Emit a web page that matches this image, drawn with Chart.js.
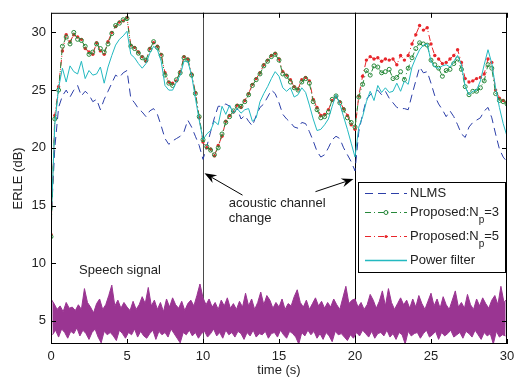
<!DOCTYPE html>
<html>
<head>
<meta charset="utf-8">
<script src="https://cdn.jsdelivr.net/npm/chart.js@4.4.1/dist/chart.umd.min.js"></script>
<style>
  body { margin: 0; background: #fff; }
  #wrap { width: 522px; height: 383px; }
</style>
</head>
<body>
<div id="wrap"><canvas id="erleChart" width="522" height="383"></canvas></div>
<script>
// ---- data ----
const sampleStep = 0.25;   // s between ERLE samples
const speechStep = 0.1;    // s between speech samples

const xTicks = [0, 5, 10, 15, 20, 25, 30];
const yTicks = [5, 10, 15, 20, 25, 30];
const channelChanges = [10, 20];

const nlmsErle = [
  13.5, 20.0, 23.5, 24.5,  25.0, 24.4, 25.0, 25.4,  24.5, 24.9, 24.6, 24.0,
  24.2, 23.3, 24.2, 24.9,  25.6, 26.3, 26.1, 26.5,  26.7, 24.3, 23.9, 23.4,
  23.1, 22.7, 23.2, 23.4,  22.9, 21.9, 20.8, 20.3,  20.6, 20.8, 21.0, 21.4,
  22.4, 21.8, 21.0, 20.2,  19.0, 20.1, 21.4, 22.6,  23.6, 23.6, 23.8, 23.6,
  23.0, 23.4, 22.5, 22.8,  22.3, 21.9, 22.8, 23.5,  23.8, 24.4, 25.0, 24.7,
  23.9, 22.9, 22.5, 22.2,  21.8, 21.7, 22.2, 22.1,  21.4, 20.6, 19.7, 19.2,
  19.4, 20.0, 20.7, 21.0,  20.8, 20.0, 19.4, 18.8,  18.0, 21.4, 22.9, 24.2,
  24.6, 24.8, 25.0, 24.6,  24.9, 24.3, 23.9, 23.5,  23.4, 23.4, 23.3, 24.6,
  25.8, 27.0, 26.5, 26.6,  25.6, 24.5, 23.8, 23.3,  22.7, 23.2, 22.7, 22.0,
  21.2, 20.9, 21.8, 22.2,  22.4, 22.6, 23.2, 23.5,  22.6, 21.2, 19.9, 19.2,
  18.8
];

const np3Erle = [
  12.3, 22.5, 25.0, 28.8,  29.6, 29.0, 30.0, 29.4,  29.3, 28.8, 28.1, 28.3,
  29.0, 28.6, 28.3, 29.0,  29.9, 30.6, 30.8, 31.1,  31.2, 28.8, 28.6, 28.2,
  27.8, 27.6, 28.5, 29.2,  28.7, 28.0, 26.3, 25.6,  25.4, 25.9, 26.5, 27.8,
  27.6, 26.3, 24.7, 22.7,  20.7, 20.1, 19.8, 19.4,  20.0, 21.2, 22.2, 22.7,
  23.2, 23.6, 23.6, 24.0,  24.6, 25.4, 25.9, 26.4,  27.1, 27.5, 27.9, 28.1,
  27.6, 26.4, 26.2, 25.7,  25.2, 25.0, 25.7, 26.0,  25.6, 24.0, 23.3, 22.6,
  22.7, 23.1, 24.2, 24.5,  23.9, 23.3, 22.6, 22.2,  21.8, 24.4, 25.5, 26.7,
  26.3, 27.1, 27.0, 26.5,  26.6, 26.8, 26.0, 26.1,  26.6, 25.9, 26.9, 27.8,
  28.6, 29.1, 29.0, 28.9,  27.6, 27.2, 26.9, 26.2,  26.7, 26.8, 27.3, 27.7,
  26.8, 25.3, 24.6, 24.9,  24.9, 25.2, 25.8, 27.2,  26.9, 24.7, 24.1, 24.0,
  23.8
];

const np5Erle = [
  12.5, 22.8, 25.3, 28.4,  29.8, 29.2, 29.8, 29.6,  29.4, 28.6, 28.3, 28.1,
  29.1, 28.4, 28.1, 29.2,  30.0, 30.5, 30.9, 31.0,  31.3, 28.9, 28.7, 28.3,
  27.9, 27.5, 28.6, 29.1,  28.8, 28.1, 26.5, 25.7,  25.6, 25.8, 26.6, 27.9,
  27.7, 26.4, 24.8, 22.6,  20.5, 20.0, 19.9, 19.3,  20.2, 21.0, 22.3, 22.8,
  23.1, 23.7, 23.5, 24.1,  24.7, 25.5, 26.0, 26.5,  27.2, 27.6, 28.0, 28.2,
  27.7, 26.6, 26.3, 25.9,  25.3, 25.1, 25.9, 26.1,  25.8, 24.2, 23.5, 22.8,
  22.9, 23.3, 24.1, 24.4,  24.0, 23.4, 22.8, 22.0,  21.6, 24.5, 26.2, 27.6,
  27.9, 27.7, 27.8, 27.5,  27.7, 27.6, 27.7, 27.2,  28.0, 27.6, 28.0, 29.0,
  29.8, 30.6, 30.2, 30.4,  29.0, 28.0, 27.7, 27.3,  27.4, 27.7, 28.0, 28.5,
  27.4, 26.0, 25.7, 25.8,  26.0, 26.1, 26.4, 27.7,  27.4, 25.0, 24.3, 24.1,
  23.9
];

const powerErle = [
  13.3, 22.0, 25.2, 26.9,  25.7, 27.1, 26.6, 26.4,  27.5, 26.0, 26.7, 26.3,
  26.4, 27.0, 25.6, 27.0,  28.0, 28.9, 29.4, 29.7,  30.1, 28.1, 27.8, 27.3,
  26.9, 27.3, 28.2, 28.8,  28.5, 27.5, 25.4, 25.0,  25.0, 25.7, 26.3, 27.5,
  27.5, 26.3, 24.3, 22.4,  20.7, 21.2, 21.5, 22.3,  22.0, 23.6, 22.9, 23.7,
  23.0, 23.4, 23.0, 23.3,  23.4, 22.3, 22.6, 24.0,  24.7, 25.3, 26.0, 26.6,
  26.2, 25.2, 24.9, 25.2,  24.4, 24.6, 25.2, 24.8,  23.7, 22.5, 21.5, 21.6,
  22.0, 22.5, 23.6, 24.6,  23.8, 22.7, 21.6, 20.4,  19.2, 21.8, 22.7, 24.0,
  24.9, 24.1, 25.4, 24.8,  25.2, 24.8, 24.9, 25.6,  24.9, 25.8, 25.5, 27.0,
  27.8, 28.5, 28.9, 29.0,  27.5, 27.0, 26.9, 27.1,  27.2, 27.0, 27.5, 28.0,
  27.2, 25.3, 24.6, 24.9,  25.0, 25.8, 27.2, 28.5,  27.3, 25.2, 23.5, 22.1,
  21.0
];

// speech waveform, alternating crest / trough samples (drawn around 5)
const speechSignal = [
  6.9,3.8,6.5,4.2,6.0,3.6,6.3,4.3,5.8,4.0,  6.6,3.5,6.1,4.1,6.2,3.9,5.9,4.4,6.4,3.7,
  6.0,4.2,7.8,3.9,6.6,3.4,6.2,4.0,5.7,4.3,  6.5,3.6,6.9,3.1,6.0,4.1,6.4,3.8,7.2,4.0,
  8.1,3.7,6.3,3.3,6.8,4.2,6.1,3.9,6.6,3.5,  6.2,4.0,5.9,3.8,6.7,4.3,6.0,3.6,6.4,4.1,
  7.1,3.7,6.5,3.5,7.9,3.9,6.3,4.2,6.8,3.4,  6.0,4.1,6.6,3.8,5.8,4.0,6.9,3.6,6.2,4.3,
  7.0,3.9,6.4,3.5,6.1,3.1,6.7,4.0,5.9,3.8,  6.5,4.2,6.8,3.7,6.3,4.0,7.2,3.5,8.2,3.9,
  7.0,4.1,6.4,3.6,6.9,3.9,6.2,4.3,6.6,3.7,  6.0,4.0,6.8,3.5,6.3,4.2,7.0,3.8,6.1,4.0,
  6.5,3.6,6.0,4.1,6.7,3.9,6.2,3.4,7.4,4.0,  6.3,3.7,6.9,4.2,6.0,3.6,6.6,3.9,7.5,3.8,
  6.4,4.1,7.2,3.5,6.8,3.9,6.1,4.0,6.6,3.6,  6.2,4.2,6.9,3.8,6.0,3.5,6.5,4.1,6.3,3.9,
  7.1,3.6,7.7,3.0,6.6,4.0,6.2,3.7,6.8,4.2,  6.0,3.8,6.5,4.1,7.0,3.5,6.3,3.9,6.7,3.4,
  6.1,4.0,6.6,3.7,6.2,3.2,6.9,4.1,6.4,3.8,  6.0,3.9,7.0,3.6,8.0,3.3,6.5,3.8,6.8,3.5,
  6.9,4.0,6.2,3.7,6.6,4.2,6.0,3.9,6.4,3.6,  7.3,4.1,6.8,3.5,6.1,3.9,6.7,4.0,7.6,3.7,
  6.3,4.2,7.8,3.6,6.6,3.9,6.0,3.4,6.5,4.0,  7.0,3.8,6.4,3.0,6.8,4.1,6.1,3.7,6.9,3.9,
  6.2,4.0,7.2,3.5,6.5,3.9,6.0,4.2,6.7,3.6,  7.4,3.8,6.3,4.1,6.9,3.4,6.1,4.0,7.1,3.7,
  6.4,3.9,6.0,4.2,6.8,3.6,7.6,3.8,6.2,4.0,  6.6,3.5,6.1,4.1,7.3,3.9,6.4,3.6,6.0,4.2,
  6.9,3.8,6.3,3.4,7.0,4.0,6.5,3.7,6.1,3.9,  6.8,3.0,7.2,4.1,6.4,3.6,8.0,3.8,6.6,3.7,
  6.9
];

// ---- helpers ----
const FONT = 'Arial, "Liberation Sans", sans-serif';
const TXT = '#222';
const toPoints = (vals, dt) => vals.map((v, i) => ({ x: i * dt, y: v }));

// split the waveform into its crest and trough envelopes so the band can be filled
const speechPts = toPoints(speechSignal, speechStep);
const speechCrest = speechPts.filter((p, i) => i % 2 === 0);
const speechTrough = speechPts.filter((p, i) => i % 2 === 1);

const COL = {
  nlms: '#2c3fa8',
  np3: '#27883a',
  np5: '#e8262b',
  power: '#23b9c0',
  speech: '#9a3592'
};

function drawArrow(ctx, x0, y0, x1, y1) {
  const ang = Math.atan2(y1 - y0, x1 - x0);
  const c = Math.cos(ang), s = Math.sin(ang);
  const len = 12, half = 4.5, notch = 8;
  ctx.beginPath();
  ctx.moveTo(x0, y0);
  ctx.lineTo(x1 - notch * c, y1 - notch * s);
  ctx.stroke();
  ctx.beginPath();
  ctx.moveTo(x1, y1);
  ctx.lineTo(x1 - len * c + half * s, y1 - len * s - half * c);
  ctx.lineTo(x1 - notch * c, y1 - notch * s);
  ctx.lineTo(x1 - len * c - half * s, y1 - len * s + half * c);
  ctx.closePath();
  ctx.fill();
}

// MATLAB-like frame: box, inward ticks, markers, notes and legend
const matlabFrame = {
  id: 'matlabFrame',
  beforeDatasetsDraw(chart) {
    const { ctx, chartArea: a, scales: { x } } = chart;
    ctx.save();
    ctx.lineWidth = 1;
    channelChanges.forEach((t, i) => {
      const px = Math.round(x.getPixelForValue(t)) + 0.5;
      ctx.strokeStyle = i === 0 ? '#4a4a4a' : '#000';
      ctx.beginPath();
      ctx.moveTo(px, a.top);
      ctx.lineTo(px, a.bottom);
      ctx.stroke();
    });
    ctx.restore();
  },
  afterDraw(chart) {
    const { ctx, chartArea: a, scales: { x, y } } = chart;
    ctx.save();

    // box
    ctx.strokeStyle = '#000';
    ctx.lineWidth = 1;
    ctx.strokeRect(a.left + 0.5, a.top + 0.5, a.right - a.left - 1, a.bottom - a.top - 1);

    // inward ticks on all four sides
    const tl = 5;
    ctx.beginPath();
    xTicks.forEach(v => {
      const px = Math.round(x.getPixelForValue(v)) + 0.5;
      ctx.moveTo(px, a.bottom); ctx.lineTo(px, a.bottom - tl);
      ctx.moveTo(px, a.top); ctx.lineTo(px, a.top + tl);
    });
    yTicks.forEach(v => {
      const py = Math.round(y.getPixelForValue(v)) + 0.5;
      ctx.moveTo(a.left, py); ctx.lineTo(a.left + tl, py);
      ctx.moveTo(a.right, py); ctx.lineTo(a.right - tl, py);
    });
    ctx.stroke();

    // notes
    ctx.fillStyle = TXT;
    ctx.font = '13px ' + FONT;
    ctx.textBaseline = 'middle';
    ctx.textAlign = 'left';
    ctx.fillText('acoustic channel', x.getPixelForValue(11.7), y.getPixelForValue(15.2));
    ctx.fillText('change', x.getPixelForValue(11.7), y.getPixelForValue(13.9));
    ctx.fillText('Speech signal', x.getPixelForValue(1.85), y.getPixelForValue(9.4));

    ctx.strokeStyle = '#000';
    ctx.fillStyle = '#000';
    drawArrow(ctx, x.getPixelForValue(12.6), y.getPixelForValue(15.9),
                   x.getPixelForValue(10.1), y.getPixelForValue(17.8));
    drawArrow(ctx, x.getPixelForValue(17.4), y.getPixelForValue(16.2),
                   x.getPixelForValue(19.9), y.getPixelForValue(17.3));

    // legend
    const lx = 358, ly = 182, lw = 147, lh = 90;
    ctx.fillStyle = '#fff';
    ctx.fillRect(lx, ly, lw, lh);
    ctx.strokeStyle = '#000';
    ctx.strokeRect(lx + 0.5, ly + 0.5, lw, lh);

    const rows = [
      { y: 193, color: COL.nlms, dash: [8, 5], marker: null, text: ['NLMS'] },
      { y: 212, color: COL.np3, dash: [6, 3, 1, 3], marker: 'o', text: ['Proposed:N', 'p', '=3'] },
      { y: 236, color: COL.np5, dash: [6, 3, 1, 3], marker: '.', text: ['Proposed:N', 'p', '=5'] },
      { y: 260, color: COL.power, dash: [], marker: null, text: ['Power filter'] }
    ];
    rows.forEach(r => {
      ctx.strokeStyle = r.color;
      ctx.lineWidth = r.dash.length ? 1 : 1.5;
      ctx.setLineDash(r.dash);
      ctx.beginPath();
      ctx.moveTo(365, r.y + 0.5);
      ctx.lineTo(407, r.y + 0.5);
      ctx.stroke();
      ctx.setLineDash([]);
      ctx.lineWidth = 1;
      if (r.marker === 'o') {
        ctx.beginPath(); ctx.arc(386, r.y + 0.5, 2, 0, Math.PI * 2); ctx.stroke();
      } else if (r.marker === '.') {
        ctx.fillStyle = r.color;
        ctx.beginPath(); ctx.arc(386, r.y + 0.5, 1.5, 0, Math.PI * 2); ctx.fill();
      }
      ctx.fillStyle = TXT;
      ctx.font = '13px ' + FONT;
      let tx = 410;
      ctx.fillText(r.text[0], tx, r.y);
      if (r.text.length > 1) {
        tx += ctx.measureText(r.text[0]).width;
        ctx.font = '10px ' + FONT;
        ctx.fillText(r.text[1], tx, r.y + 8);
        tx += ctx.measureText(r.text[1]).width;
        ctx.font = '13px ' + FONT;
        ctx.fillText(r.text[2], tx, r.y);
      }
    });

    ctx.restore();
  }
};

const ctx = document.getElementById('erleChart').getContext('2d');

new Chart(ctx, {
  type: 'line',
  data: {
    datasets: [
      {
        label: 'Power filter',
        data: toPoints(powerErle, sampleStep),
        borderColor: COL.power,
        borderWidth: 1,
        pointRadius: 0,
        order: 1
      },
      {
        label: 'Proposed:Np=3',
        data: toPoints(np3Erle, sampleStep),
        borderColor: COL.np3,
        borderWidth: 1,
        borderDash: [6, 3, 1, 3],
        pointStyle: 'circle',
        pointRadius: 2,
        pointBorderWidth: 1,
        pointBorderColor: COL.np3,
        pointBackgroundColor: 'rgba(255,255,255,0)',
        order: 2
      },
      {
        label: 'Proposed:Np=5',
        data: toPoints(np5Erle, sampleStep),
        borderColor: COL.np5,
        borderWidth: 1,
        borderDash: [6, 3, 1, 3],
        pointStyle: 'circle',
        pointRadius: 1.7,
        pointBorderWidth: 0,
        pointBackgroundColor: COL.np5,
        order: 3
      },
      {
        label: 'NLMS',
        data: toPoints(nlmsErle, sampleStep),
        borderColor: COL.nlms,
        borderWidth: 1,
        borderDash: [8, 5],
        pointRadius: 0,
        order: 4
      },
      {
        label: 'Speech signal',
        data: speechCrest,
        borderColor: COL.speech,
        backgroundColor: COL.speech,
        borderWidth: 1,
        pointRadius: 0,
        fill: '+1',
        order: 5
      },
      {
        label: 'Speech signal (trough)',
        data: speechTrough,
        borderColor: COL.speech,
        borderWidth: 1,
        pointRadius: 0,
        fill: false,
        order: 6
      }
    ]
  },
  options: {
    responsive: false,
    animation: false,
    devicePixelRatio: 1,
    layout: { padding: { top: 3, right: 15, left: 0, bottom: 0 } },
    elements: { line: { tension: 0 } },
    plugins: {
      legend: { display: false },
      tooltip: { enabled: false }
    },
    scales: {
      x: {
        type: 'linear',
        min: 0,
        max: 30,
        afterBuildTicks: s => { s.ticks = xTicks.map(v => ({ value: v })); },
        afterFit: s => { s.height = 39; },
        grid: { display: false, drawTicks: false },
        border: { display: false },
        ticks: { padding: 5, color: TXT, font: { family: FONT, size: 13 } },
        title: {
          display: true, text: 'time (s)', color: TXT,
          font: { family: FONT, size: 13 }, padding: { top: 0, bottom: 5 }
        }
      },
      y: {
        type: 'linear',
        min: 3,
        max: 31.7,
        afterBuildTicks: s => { s.ticks = yTicks.map(v => ({ value: v })); },
        afterFit: s => { s.width = 51; },
        grid: { display: false, drawTicks: false },
        border: { display: false },
        ticks: { padding: 5, color: TXT, font: { family: FONT, size: 13 } },
        title: {
          display: true, text: 'ERLE (dB)', color: TXT,
          font: { family: FONT, size: 13 }, padding: { top: 11, bottom: 0 }
        }
      }
    }
  },
  plugins: [matlabFrame]
});
</script>
</body>
</html>
